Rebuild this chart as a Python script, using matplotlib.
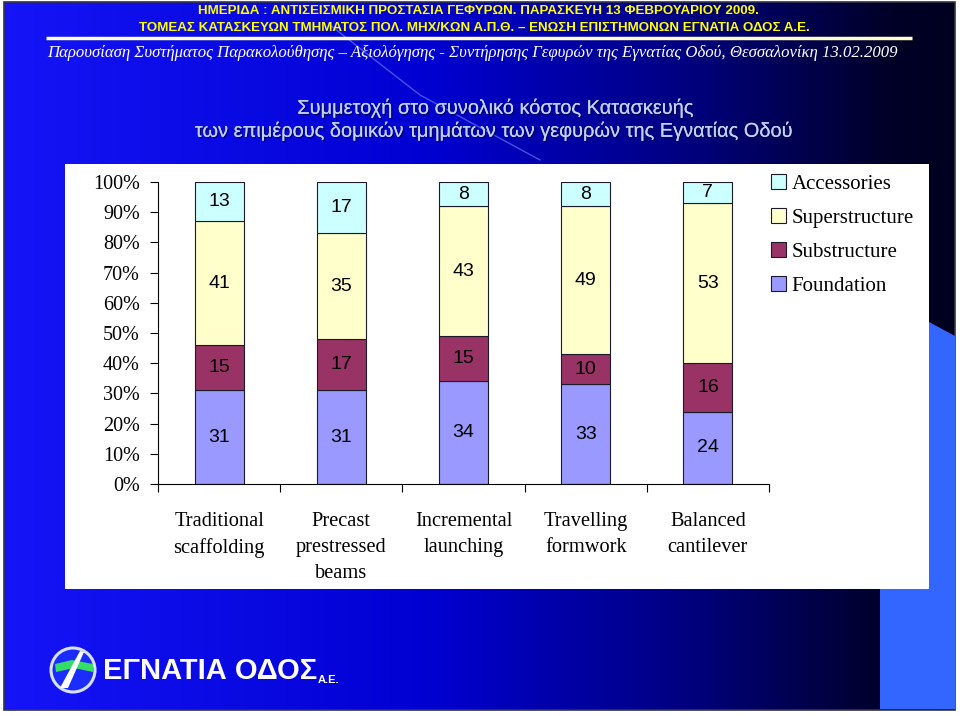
import numpy as np
import matplotlib
matplotlib.use("Agg")
import matplotlib.pyplot as plt
from matplotlib.patches import Rectangle, Polygon, Circle
import matplotlib.patheffects as pe
from matplotlib.colors import LinearSegmentedColormap

# ---------------- data ----------------
categories = ["Traditional\nscaffolding", "Precast\nprestressed\nbeams",
              "Incremental\nlaunching", "Travelling\nformwork", "Balanced\ncantilever"]
series_names = ["Foundation", "Substructure", "Superstructure", "Accessories"]
foundation = [31, 31, 34, 33, 24]
substructure = [15, 17, 15, 10, 16]
superstructure = [41, 35, 43, 49, 53]
accessories = [13, 17, 8, 8, 7]
series_values = [foundation, substructure, superstructure, accessories]
series_colors = ["#9999ff", "#993366", "#ffffcc", "#ccffff"]
y_ticks = [0, 10, 20, 30, 40, 50, 60, 70, 80, 90, 100]

header1 = "ΗΜΕΡΙΔΑ : ΑΝΤΙΣΕΙΣΜΙΚΗ ΠΡΟΣΤΑΣΙΑ ΓΕΦΥΡΩΝ. ΠΑΡΑΣΚΕΥΗ 13 ΦΕΒΡΟΥΑΡΙΟΥ 2009."
header2 = "ΤΟΜΕΑΣ ΚΑΤΑΣΚΕΥΩΝ ΤΜΗΜΑΤΟΣ ΠΟΛ. ΜΗΧ/ΚΩΝ Α.Π.Θ. – ΕΝΩΣΗ ΕΠΙΣΤΗΜΟΝΩΝ ΕΓΝΑΤΙΑ ΟΔΟΣ Α.Ε."
subtitle = "Παρουσίαση Συστήματος Παρακολούθησης – Αξιολόγησης - Συντήρησης Γεφυρών της Εγνατίας Οδού, Θεσσαλονίκη 13.02.2009"
title1 = "Συμμετοχή στο συνολικό κόστος Κατασκευής"
title2 = "των επιμέρους δομικών τμημάτων των γεφυρών της Εγνατίας Οδού"

SERIF = ["Liberation Serif", "DejaVu Serif"]
SANS = ["Liberation Sans", "DejaVu Sans"]

fig = plt.figure(figsize=(9.6, 7.16), dpi=100)
fig.patch.set_facecolor("white")

# ------------- slide background (pixel coords) -------------
bg = fig.add_axes([0, 0, 1, 1])
bg.set_xlim(0, 960)
bg.set_ylim(716, 0)
bg.axis("off")

cmap = LinearSegmentedColormap.from_list(
    "slide", [(0.0, (0.08, 0.08, 0.97)), (0.45, (0.0, 0.0, 0.82)),
              (0.72, (0.0, 0.0, 0.50)), (0.93, (0.0, 0.0, 0.16)), (1.0, (0.0, 0.0, 0.12))])
grad = np.linspace(0, 1, 512).reshape(1, -1)
bg.imshow(grad, cmap=cmap, extent=(4, 955, 710, 2), aspect="auto", zorder=0)
bg.add_patch(Rectangle((4, 2), 951, 708, fill=False, edgecolor="#333344", lw=1.2, zorder=1))

# light blue shape at right
bg.add_patch(Polygon([(929, 322), (955, 336), (955, 709), (880, 709), (880, 589), (929, 589)],
                     closed=True, facecolor="#3366ff", edgecolor="none", zorder=1))

# faint diagonal line
bg.plot([330, 420, 540], [25, 95, 160], color="#6f8cff", lw=1.0, alpha=0.6, zorder=1)

# header texts
bg.text(478, 11, header1, color="#ffff00", fontsize=9.6, fontweight="bold",
        family=SANS, ha="center", va="center", zorder=3)
bg.text(474, 28, header2, color="#ffff00", fontsize=9.6, fontweight="bold",
        family=SANS, ha="center", va="center", zorder=3)
bg.plot([46, 912], [38, 38], color="#ffffcc", lw=2.5, zorder=3, solid_capstyle="butt")
bg.text(472, 53, subtitle, color="white", fontsize=12.1, fontstyle="italic",
        family=SERIF, ha="center", va="center", zorder=3)

# titles
shadow = [pe.withSimplePatchShadow(offset=(1, -1), shadow_rgbFace="#000040", alpha=0.7), pe.Normal()]
bg.text(495, 108, title1, color="#c0d2ff", fontsize=14.4, family=SANS,
        ha="center", va="center", zorder=3, path_effects=shadow)
bg.text(493, 131, title2, color="#c0d2ff", fontsize=14.4, family=SANS,
        ha="center", va="center", zorder=3, path_effects=shadow)

# white chart panel
bg.add_patch(Rectangle((65, 164), 864, 425, facecolor="white", edgecolor="none", zorder=2))

# logo
bg.add_patch(Circle((73, 670), 22, facecolor="#1a2cff", edgecolor="#d8e0ff", lw=2.2, zorder=3))
bg.add_patch(Polygon([(55, 664), (72, 660), (93, 664), (93, 672), (74, 668), (56, 672)],
                     closed=True, facecolor="#33dd66", edgecolor="none", zorder=4))
bg.add_patch(Polygon([(60, 688), (68, 688), (84, 652), (80, 651)],
                     closed=True, facecolor="white", edgecolor="none", zorder=5))
bg.text(103, 671, "ΕΓΝΑΤΙΑ ΟΔΟΣ", color="white", fontsize=21, fontweight="bold",
        family=SANS, ha="left", va="center", zorder=4)
bg.text(318, 680, "Α.Ε.", color="white", fontsize=8, fontweight="bold",
        family=SANS, ha="left", va="center", zorder=4)

# ---------------- chart ----------------
W, H = 960, 716
ax = fig.add_axes([158 / W, 1 - 484 / H, 611 / W, 302 / H])
ax.set_facecolor("none")
x = np.arange(len(categories))
bottom = np.zeros(len(categories))
handles = []
for name, vals, col in zip(series_names, series_values, series_colors):
    vals = np.array(vals, dtype=float)
    b = ax.bar(x, vals, width=0.4, bottom=bottom, color=col, edgecolor="#1a1a2a",
               linewidth=0.8, label=name, zorder=2)
    handles.append(b)
    for xi, v, bt in zip(x, vals, bottom):
        ax.text(xi, bt + v / 2, f"{int(v)}", ha="center", va="center",
                fontsize=14, family=SANS, color="black", zorder=3)
    bottom += vals

ax.set_xlim(-0.5, len(categories) - 0.5)
ax.set_ylim(0, 100)
ax.set_yticks(y_ticks)
ax.set_yticklabels([f"{t}%" for t in y_ticks], family=SERIF, fontsize=14.5)
ax.tick_params(axis="y", length=6, width=0.8, pad=7, colors="black")
ax.set_xticks(x)
ax.set_xticklabels(categories, family=SERIF, fontsize=14.7, linespacing=1.52)
ax.tick_params(axis="x", which="major", length=0, pad=20)
ax.set_xticks(np.arange(len(categories) + 1) - 0.5, minor=True)
ax.tick_params(axis="x", which="minor", length=6, width=0.8)
for s in ["top", "right"]:
    ax.spines[s].set_visible(False)
for s in ["left", "bottom"]:
    ax.spines[s].set_linewidth(0.8)

leg = fig.legend(handles[::-1], series_names[::-1], loc="upper left",
                 bbox_to_anchor=(771 / W, 1 - 174 / H), frameon=False,
                 prop={"family": SERIF, "size": 15}, handlelength=0.7,
                 handleheight=0.7, handletextpad=0.3, labelspacing=0.7,
                 borderaxespad=0, borderpad=0)
for p in leg.get_patches():
    p.set_edgecolor("#1a1a2a")
    p.set_linewidth(0.8)

fig.savefig("out.png", dpi=100, facecolor=fig.get_facecolor())
